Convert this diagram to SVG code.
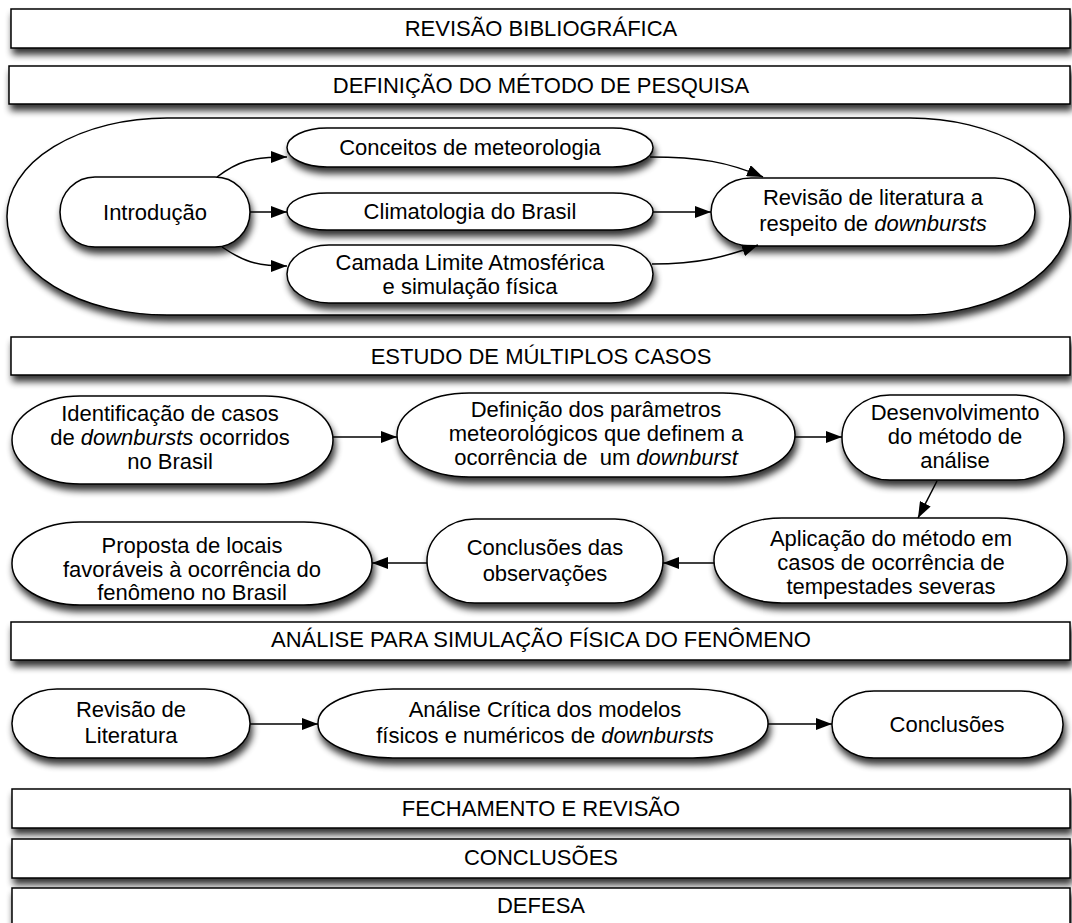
<svg xmlns="http://www.w3.org/2000/svg" width="1072" height="923" viewBox="0 0 1072 923">
<style>
.s{fill:#fff;stroke:#000;stroke-width:1.5}
text{font-family:"Liberation Sans",Arial,sans-serif;font-size:22px;fill:#000;text-anchor:middle}
.i{font-style:italic}
.c{fill:none;stroke:#000;stroke-width:1.5;marker-end:url(#ah)}
</style>
<defs>
<filter id="sh" x="-10%" y="-50%" width="120%" height="200%">
<feGaussianBlur in="SourceAlpha" stdDeviation="3.5" result="blur"/>
<feOffset in="blur" dx="2" dy="6" result="off"/>
<feComponentTransfer in="off" result="shd"><feFuncA type="linear" slope="0.8"/></feComponentTransfer>
<feMerge><feMergeNode in="shd"/><feMergeNode in="SourceGraphic"/></feMerge>
</filter>
<marker id="ah" markerUnits="userSpaceOnUse" markerWidth="17" markerHeight="12" refX="16" refY="6" orient="auto">
<path d="M0,0 L16,6 L0,12 z" fill="#000"/>
</marker>
</defs>
<rect width="1072" height="923" fill="#fff"/>

<g id="bar1"><rect class="s" filter="url(#sh)" x="11" y="9" width="1059" height="39"/><text x="541" y="36">REVISÃO BIBLIOGRÁFICA</text></g>
<g id="bar2"><rect class="s" filter="url(#sh)" x="9" y="66" width="1061" height="38"/><text x="541" y="93">DEFINIÇÃO DO MÉTODO DE PESQUISA</text></g>

<g id="container"><rect class="s" filter="url(#sh)" x="7" y="118" width="1063" height="197" rx="160" ry="98"/></g>

<g id="introducao"><rect class="s" filter="url(#sh)" x="60" y="177" width="190" height="70" rx="35" ry="35"/><text x="155" y="220">Introdução</text></g>
<g id="conceitos"><rect class="s" filter="url(#sh)" x="287" y="128" width="366" height="39" rx="40" ry="19.5"/><text x="470" y="155">Conceitos de meteorologia</text></g>
<g id="climatologia"><rect class="s" filter="url(#sh)" x="287" y="193" width="366" height="37" rx="40" ry="18.5"/><text x="470" y="219">Climatologia do Brasil</text></g>
<g id="camada"><rect class="s" filter="url(#sh)" x="287" y="245" width="366" height="58" rx="42" ry="29"/><text x="470" y="270">Camada Limite Atmosférica</text><text x="470" y="294">e simulação física</text></g>
<g id="revisao-lit"><rect class="s" filter="url(#sh)" x="711" y="178" width="324" height="68" rx="40" ry="34"/><text x="873" y="205">Revisão de literatura a</text><text x="873" y="231">respeito de <tspan class="i">downbursts</tspan></text></g>

<g id="bar3"><rect class="s" filter="url(#sh)" x="11" y="337" width="1059" height="38"/><text x="541" y="364">ESTUDO DE MÚLTIPLOS CASOS</text></g>

<g id="identificacao"><rect class="s" filter="url(#sh)" x="12" y="396" width="321" height="88" rx="68" ry="44"/><text x="170" y="421">Identificação de casos</text><text x="170" y="445">de <tspan class="i">downbursts</tspan> ocorridos</text><text x="170" y="469">no Brasil</text></g>
<g id="definicao"><rect class="s" filter="url(#sh)" x="397" y="393" width="398" height="84" rx="72" ry="42"/><text x="596" y="417">Definição dos parâmetros</text><text x="596" y="441">meteorológicos que definem a</text><text x="596" y="465" style="white-space:pre">ocorrência de  um <tspan class="i">downburst</tspan></text></g>
<g id="desenvolvimento"><rect class="s" filter="url(#sh)" x="842" y="395" width="222" height="85" rx="48" ry="42"/><text x="955" y="420">Desenvolvimento</text><text x="955" y="444">do método de</text><text x="955" y="468">análise</text></g>
<g id="aplicacao"><rect class="s" filter="url(#sh)" x="714" y="518" width="353" height="85" rx="68" ry="42"/><text x="891" y="546">Aplicação do método em</text><text x="891" y="570">casos de ocorrência de</text><text x="891" y="594">tempestades severas</text></g>
<g id="conclusoes-obs"><rect class="s" filter="url(#sh)" x="427" y="519" width="236" height="84" rx="48" ry="42"/><text x="545" y="555">Conclusões das</text><text x="545" y="581">observações</text></g>
<g id="proposta"><rect class="s" filter="url(#sh)" x="12" y="522" width="360" height="83" rx="68" ry="41"/><text x="192" y="553">Proposta de locais</text><text x="192" y="577">favoráveis à ocorrência do</text><text x="192" y="600">fenômeno no Brasil</text></g>

<g id="bar4"><rect class="s" filter="url(#sh)" x="11" y="622" width="1059" height="38"/><text x="541" y="647">ANÁLISE PARA SIMULAÇÃO FÍSICA DO FENÔMENO</text></g>

<g id="revisao-literatura"><rect class="s" filter="url(#sh)" x="12" y="689" width="238" height="69" rx="45" ry="34"/><text x="131" y="717">Revisão de</text><text x="131" y="743">Literatura</text></g>
<g id="analise-critica"><rect class="s" filter="url(#sh)" x="318" y="689" width="450" height="69" rx="75" ry="34"/><text x="545" y="717">Análise Crítica dos modelos</text><text x="545" y="743">físicos e numéricos de <tspan class="i">downbursts</tspan></text></g>
<g id="conclusoes"><rect class="s" filter="url(#sh)" x="832" y="691" width="231" height="67" rx="42" ry="33"/><text x="947" y="732">Conclusões</text></g>

<g id="bar5"><rect class="s" filter="url(#sh)" x="12" y="789" width="1058" height="39"/><text x="541" y="816">FECHAMENTO E REVISÃO</text></g>
<g id="bar6"><rect class="s" filter="url(#sh)" x="12" y="839" width="1058" height="39"/><text x="541" y="865">CONCLUSÕES</text></g>
<g id="bar7"><rect class="s" filter="url(#sh)" x="12" y="888" width="1058" height="45"/><text x="541" y="913">DEFESA</text></g>

<g id="connectors">
<path class="c" d="M217,177 C238,161 252,157 287,157"/>
<path class="c" d="M250,212 L287,212"/>
<path class="c" d="M222,247 C243,261 255,266 287,266"/>
<path class="c" d="M650,157 C700,157 728,162 763,177"/>
<path class="c" d="M653,212 L711,212"/>
<path class="c" d="M652,264 C700,264 725,257 758,245"/>
<path class="c" d="M333,437 L397,437"/>
<path class="c" d="M795,437 L842,437"/>
<path class="c" d="M937,481 L918,518"/>
<path class="c" d="M714,563 L663,563"/>
<path class="c" d="M427,563 L372,563"/>
<path class="c" d="M250,724 L318,724"/>
<path class="c" d="M768,724 L832,724"/>
</g>
</svg>
